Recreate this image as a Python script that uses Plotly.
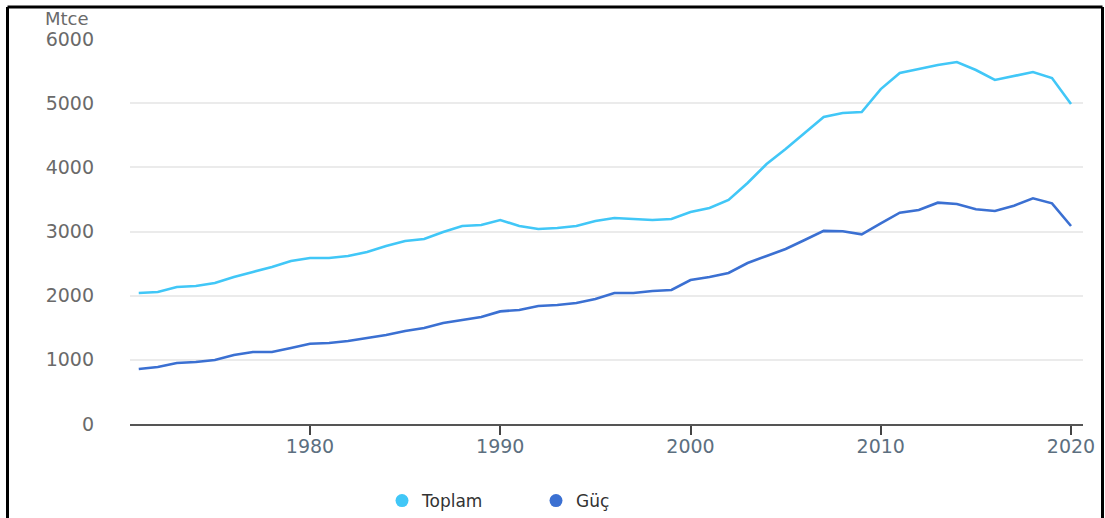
import plotly.graph_objects as go

# Years and coal consumption series (Mtce)
years = list(range(1971, 2021))

toplam = [2041, 2057, 2135, 2150, 2197, 2290, 2369, 2447, 2540, 2587,
          2587, 2618, 2680, 2774, 2852, 2883, 2992, 3086, 3101, 3179,
          3086, 3039, 3054, 3086, 3163, 3210, 3195, 3179, 3195, 3304,
          3366, 3491, 3756, 4052, 4285, 4535, 4784, 4847, 4862, 5220,
          5470, 5532, 5594, 5641, 5517, 5361, 5423, 5485, 5392, 4987]

guc = [857, 888, 951, 966, 997, 1075, 1122, 1122, 1184, 1250,
       1262, 1293, 1340, 1387, 1449, 1496, 1574, 1621, 1667, 1755,
       1777, 1839, 1854, 1886, 1948, 2041, 2041, 2073, 2088, 2244,
       2291, 2353, 2509, 2618, 2727, 2867, 3010, 3003, 2956, 3128,
       3293, 3335, 3449, 3428, 3346, 3319, 3402, 3517, 3439, 3086]

series_names = ["Toplam", "Güç"]
y_ticks = [0, 1000, 2000, 3000, 4000, 5000, 6000]
x_ticks = [1980, 1990, 2000, 2010, 2020]
unit_label = "Mtce"

line_colors = ["#41c7f7", "#3b70d2"]
font_family = "DejaVu Sans"

W, H = 1105, 518
ML, MR, MT, MB = 130, 22, 39, 94
PW, PH = W - ML - MR, H - MT - MB


def px_x(p):
    return (p - ML) / PW


def px_y(p):
    return (H - MB - p) / PH


fig = go.Figure()

for name, vals, col in zip(series_names, [toplam, guc], line_colors):
    fig.add_trace(go.Scatter(
        x=years, y=vals, mode="lines", name=name,
        line=dict(color=col, width=2.6),
        showlegend=False, legendgroup=name, hoverinfo="x+y+name",
    ))
    # round legend swatch for each series
    fig.add_trace(go.Scatter(
        x=[None], y=[None], mode="markers", name=name,
        marker=dict(color=col, size=13, symbol="circle"),
        legendgroup=name, showlegend=True,
    ))

fig.update_layout(
    width=W, height=H,
    margin=dict(l=ML, r=MR, t=MT, b=MB, autoexpand=False),
    paper_bgcolor="white", plot_bgcolor="white",
    font=dict(family=font_family, color="#666666"),
    showlegend=True,
    legend=dict(
        orientation="h",
        x=px_x(382), xanchor="left",
        y=px_y(501), yanchor="middle",
        font=dict(size=17, color="#333333", family=font_family),
        entrywidth=109, entrywidthmode="pixels",
        bgcolor="rgba(0,0,0,0)",
    ),
    xaxis=dict(
        range=[1970.54, 2020.63],
        tickvals=x_ticks, ticktext=[str(v) for v in x_ticks],
        showgrid=False, zeroline=False,
        showline=True, linecolor="#555555", linewidth=2,
        ticks="outside", ticklen=9, tickwidth=2, tickcolor="#444444",
        ticklabelstandoff=-5,
        tickfont=dict(size=19, color="#5c6f80"),
        automargin=False,
    ),
    yaxis=dict(
        range=[0, 6000],
        tickvals=y_ticks, ticktext=[str(v) for v in y_ticks],
        showgrid=True, gridcolor="#ebebeb", gridwidth=1.5,
        zeroline=False, showline=False,
        ticklabelstandoff=35,
        tickfont=dict(size=19, color="#6a6a6a"),
        automargin=False,
    ),
    annotations=[dict(
        text=unit_label, xref="paper", yref="paper",
        x=px_x(91), y=px_y(19), xanchor="right", yanchor="middle",
        showarrow=False, font=dict(size=18, color="#6a6a6a", family=font_family),
    )],
    shapes=[
        # frame around the figure (top, left, right)
        dict(type="line", xref="paper", yref="paper", x0=px_x(7.5), x1=px_x(1102.5),
             y0=px_y(7), y1=px_y(7), line=dict(color="black", width=3)),
        dict(type="line", xref="paper", yref="paper", x0=px_x(7.5), x1=px_x(7.5),
             y0=px_y(7), y1=px_y(530), line=dict(color="black", width=3)),
        dict(type="line", xref="paper", yref="paper", x0=px_x(1102.5), x1=px_x(1102.5),
             y0=px_y(7), y1=px_y(530), line=dict(color="black", width=3)),
    ],
)

fig.write_html("out.html")
